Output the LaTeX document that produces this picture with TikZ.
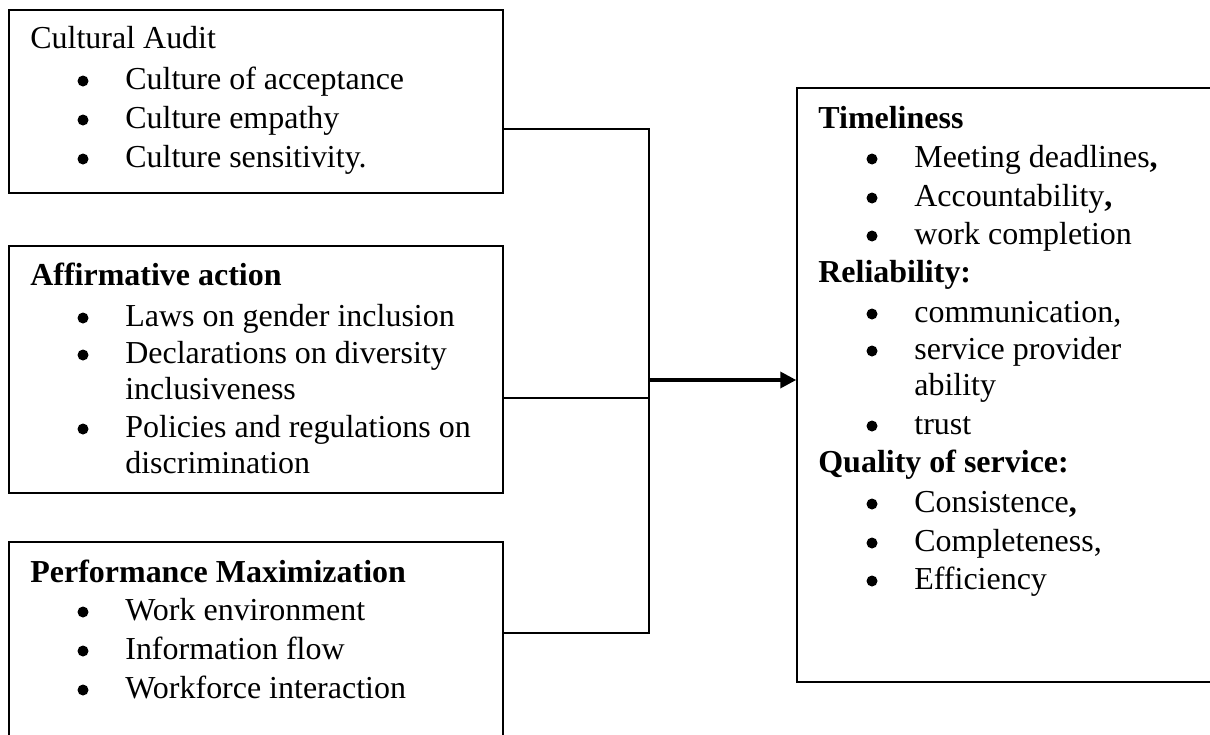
\documentclass[tikz,border=0pt]{standalone}
\usepackage{fontspec}
\setmainfont{Liberation Serif}
\usetikzlibrary{fit,arrows.meta}
\tikzset{
  box/.style={draw=black, line width=0.85pt, inner sep=0pt},
  conn/.style={draw=black, line width=1.1pt},
  mainarrow/.style={draw=black, line width=2pt, -{Triangle[length=0.32cm,width=0.32cm]}},
  txt/.style={anchor=base west, inner sep=0pt, font=\fontsize{18.2}{22}\selectfont},
  bul/.style={circle, fill=black, inner sep=0pt, minimum size=0.22cm},
}
\newcommand{\hdline}[4]{\node[txt] (#1) at (#2,#3) {\bfseries #4};}
\newcommand{\plline}[4]{\node[txt] (#1) at (#2,#3) {#4};}
\newcommand{\itmline}[4]{\node[bul] (#1b) at (#2,#3-8) {}; \node[txt] (#1) at (#2+42,#3) {#4};}
\begin{document}
\begin{tikzpicture}[x=0.02cm,y=-0.02cm]
\useasboundingbox (0,0) rectangle (1210,734);
\clip (0,0) rectangle (1210,734);
\fill[white] (0,0) rectangle (1210,734);
% boxes
\node[box, fit={(9,10) (503,193)}] (b1) {};
\node[box, fit={(9,246) (503,493)}] (b2) {};
\node[box, fit={(9,542) (503,770)}] (b3) {};
\node[box, fit={(797,88) (1240,682)}] (rb) {};
% box 1 text
\plline{h1}{30}{48}{Cultural Audit}
\itmline{i11}{83}{89}{Culture of acceptance}
\itmline{i12}{83}{128}{Culture empathy}
\itmline{i13}{83}{167}{Culture sensitivity.}
% box 2 text
\hdline{h2}{30}{285}{Affirmative action}
\itmline{i21}{83}{326}{Laws on gender inclusion}
\itmline{i22}{83}{363}{Declarations on diversity}
\plline{i22c}{125}{399}{inclusiveness}
\itmline{i23}{83}{437}{Policies and regulations on}
\plline{i23c}{125}{473}{discrimination}
% box 3 text
\hdline{h3}{30}{582}{Performance Maximization}
\itmline{i31}{83}{620}{Work environment}
\itmline{i32}{83}{659}{Information flow}
\itmline{i33}{83}{698}{Workforce interaction}
% right box text
\hdline{r1}{818}{128}{Timeliness}
\itmline{r11}{872}{167}{Meeting deadlines\textbf{,}}
\itmline{r12}{872}{206}{Accountability\textbf{,}}
\itmline{r13}{872}{244}{work completion}
\hdline{r2}{818}{282}{Reliability:}
\itmline{r21}{872}{322}{communication,}
\itmline{r22}{872}{359}{service provider}
\plline{r22c}{914}{395}{ability}
\itmline{r23}{872}{434}{trust}
\hdline{r3}{818}{472}{Quality of service:}
\itmline{r31}{872}{512}{Consistence\textbf{,}}
\itmline{r32}{872}{551}{Completeness,}
\itmline{r33}{872}{589}{Efficiency}
% connectors
\coordinate (j1) at (649,129);
\coordinate (j2) at (649,398);
\coordinate (j3) at (649,633);
\coordinate (ja) at (649,380);
\draw[conn] (b1.east |- j1) -- (j1) -- (j3) -- (b3.east |- j3);
\draw[conn] (b2.east |- j2) -- (j2);
\draw[mainarrow] (ja) -- (rb.west |- ja);
\end{tikzpicture}
\end{document}
